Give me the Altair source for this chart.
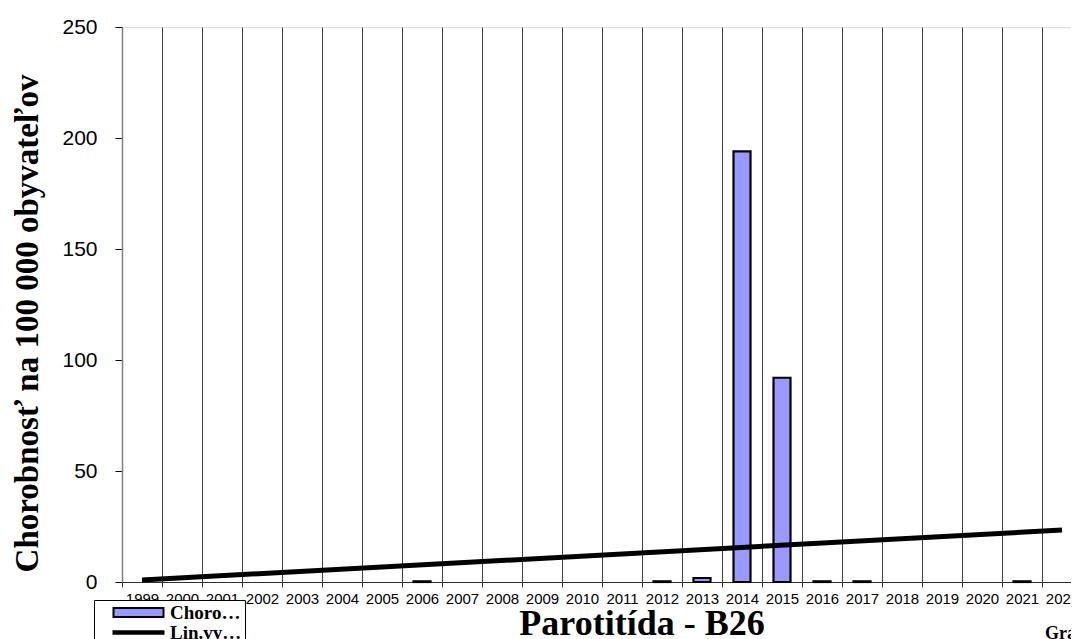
import altair as alt
import pandas as pd

years = [str(y) for y in range(1999, 2023)]
incidence = [None, None, None, None, None, None, None, 0.3, None, None, None, None,
             None, 0.3, 1.8, 194.0, 92.0, 0.3, 0.3, None, None, None, 0.3, None]
trend_years = ["1999", "2022"]
trend_values = [0.9, 23.4]
legend_labels = ["Chorobnosť", "Lin.vyr. (Chorobnosť)"]
y_ticks = [0, 50, 100, 150, 200, 250]

df = pd.DataFrame({"year": years, "value": incidence, "series": legend_labels[0]})
tdf = pd.DataFrame({"year": trend_years, "value": trend_values})

xscale = alt.Scale(domain=years, paddingInner=0, paddingOuter=0)
yscale = alt.Scale(domain=[0, 250], nice=False)

xaxis = alt.Axis(
    title=None, tickBand="extent", grid=True, gridColor="#404040", gridWidth=1,
    domainColor="#303030", domainWidth=1, tickColor="#303030", tickSize=5,
    labelFont="Liberation Sans", labelFontSize=15, labelColor="black",
    labelPadding=4, labelAngle=0, labelOverlap=False,
)
yaxis = alt.Axis(
    values=y_ticks, grid=False, domainColor="#808080", domainWidth=1.5,
    tickColor="black", tickSize=7, labelFont="Liberation Sans", labelFontSize=21,
    labelColor="black", labelPadding=18,
    title="Chorobnosť na 100 000 obyvateľov", titleFont="Liberation Serif",
    titleFontSize=33, titleFontWeight="bold", titleColor="black",
    titleAngle=270, titleX=-85, titleY=296, titleAlign="center",
    titleBaseline="alphabetic",
)

bars = alt.Chart(df).mark_bar(
    fill="#9999FF", stroke="black", strokeWidth=2.2, size=17
).encode(
    x=alt.X("year:O", scale=xscale, axis=xaxis),
    y=alt.Y("value:Q", scale=yscale, axis=yaxis),
)

trend = alt.Chart(tdf).mark_line(color="black", strokeWidth=5).encode(
    x=alt.X("year:O", scale=xscale),
    y=alt.Y("value:Q", scale=yscale),
)

rect_path = "M-1,-0.9H9V0.9H-1Z"
line_path = "M-1,-0.25H9V0.25H-1Z"
leg = alt.Legend(
    title=None, orient="none", legendX=-28, legendY=573,
    fillColor="white", strokeColor="black", padding=3, rowPadding=-2,
    symbolSize=100, symbolOffset=12, symbolStrokeColor="black",
    symbolStrokeWidth=2, symbolOpacity=1, labelOffset=42,
    labelFont="Liberation Serif", labelFontWeight="bold", labelFontSize=19,
    labelColor="black", labelLimit=76,
)
legend_layer = alt.Chart(df).transform_filter("false").mark_point(
    filled=True, opacity=1, strokeWidth=2
).encode(
    x=alt.X("year:O", scale=xscale),
    y=alt.Y("value:Q", scale=yscale),
    fill=alt.Fill("series:N", scale=alt.Scale(domain=legend_labels, range=["#9999FF", "#000000"]), legend=leg),
    shape=alt.Shape("series:N", scale=alt.Scale(domain=legend_labels, range=[rect_path, line_path]), legend=leg),
    stroke=alt.Stroke("series:N", scale=alt.Scale(domain=legend_labels, range=["#000000", "#000000"]), legend=leg),
)

graf = alt.Chart(pd.DataFrame({"t": ["Graf"]})).mark_text(
    font="Liberation Serif", fontWeight="bold", fontSize=18, color="black",
    align="left", baseline="alphabetic",
).encode(x=alt.value(923), y=alt.value(612), text="t:N")

chart = alt.layer(bars, trend, legend_layer, graf).properties(
    width=960, height=555,
    title=alt.TitleParams(
        "Parotitída - B26", orient="bottom", anchor="middle", dx=40, dy=-44,
        font="Liberation Serif", fontSize=36, fontWeight="bold", color="black",
    ),
    autosize=alt.AutoSizeParams(type="none"),
    padding={"left": 114, "top": 19, "right": -11, "bottom": 57},
).configure_view(stroke="#808080").configure(background="white")

chart.save("out.html", embed_options={"renderer": "svg", "actions": False})
